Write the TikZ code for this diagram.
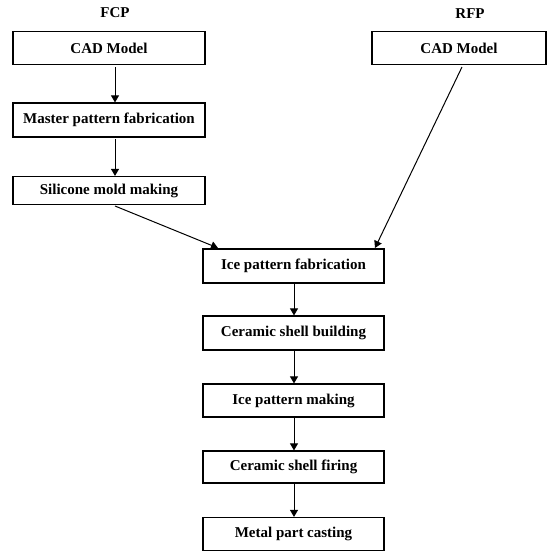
\documentclass[tikz,border=0pt]{standalone}
\usepackage{fontspec}
\setmainfont{Liberation Serif}
\usetikzlibrary{arrows.meta}
\begin{document}
\begin{tikzpicture}[x=1pt,y=-1pt,
  box/.style={draw=black,line width=1.2pt,minimum height=33pt,inner sep=0pt,font=\fontsize{15}{16}\selectfont\bfseries},
  lbl/.style={font=\fontsize{15}{16}\selectfont\bfseries,inner sep=0pt},
  conn/.style={draw=black,line width=1pt,-{Triangle[length=7pt,width=8pt]}}]
\useasboundingbox (0,0) rectangle (548,552);
\node[lbl] (fcp) at (115,13) {FCP};
\node[lbl] (rfp) at (470,14) {RFP};
\node[box,minimum width=192pt] (cad1) at (109,48) {CAD Model};
\node[box,minimum width=192pt,minimum height=34pt] (mpf) at (109,120) {Master pattern fabrication};
\node[box,minimum width=192pt,minimum height=28pt] (smm) at (109,190.5) {Silicone mold making};
\node[box,minimum width=174pt] (cad2) at (459,48) {CAD Model};
\node[box,minimum width=181pt,minimum height=34pt] (ipf) at (293.5,266) {Ice pattern fabrication};
\node[box,minimum width=181pt,minimum height=34pt] (csb) at (293.5,333) {Ceramic shell building};
\node[box,minimum width=181pt,minimum height=33pt] (ipm) at (293.5,400.5) {Ice pattern making};
\node[box,minimum width=181pt,minimum height=32pt] (csf) at (293.5,467) {Ceramic shell firing};
\node[box,minimum width=181pt,minimum height=33pt] (mpc) at (293.5,534) {Metal part casting};
\coordinate (a1s) at (115,67);
\coordinate (a2s) at (115,139);
\coordinate (a3s) at (115,206);
\coordinate (a3e) at (218,248);
\coordinate (a4s) at (462,67);
\coordinate (a4e) at (375,248);
\draw[conn] (a1s) -- (a1s |- mpf.north);
\draw[conn] (a2s) -- (a2s |- smm.north);
\draw[conn] (a3s) -- (a3e);
\draw[conn] (a4s) -- (a4e);
\draw[conn] (ipf.south -| 294,0) -- (csb.north -| 294,0);
\draw[conn] (csb.south -| 294,0) -- (ipm.north -| 294,0);
\draw[conn] (ipm.south -| 294,0) -- (csf.north -| 294,0);
\draw[conn] (csf.south -| 294,0) -- (mpc.north -| 294,0);
\end{tikzpicture}
\end{document}
